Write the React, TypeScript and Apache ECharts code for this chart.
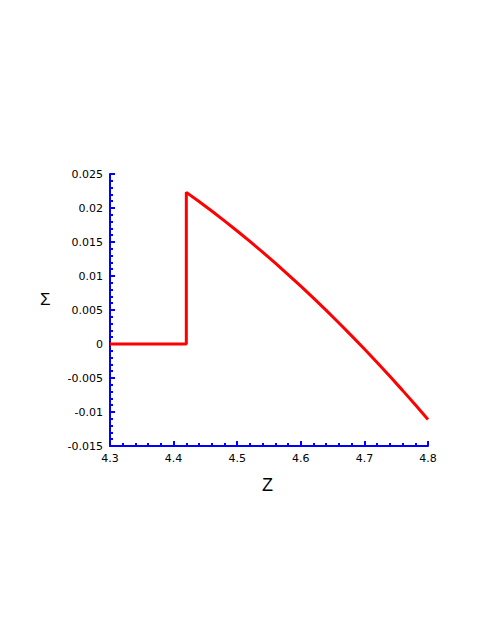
import React, { useEffect, useRef } from "react";
import * as echarts from "echarts";

const zFlat = [4.3, 4.42];
const sigmaFlat = [0, 0];
const zCurve = [4.42, 4.44, 4.46, 4.48, 4.5, 4.52, 4.54, 4.56, 4.58, 4.6, 4.62, 4.64, 4.66, 4.68, 4.7, 4.72, 4.74, 4.76, 4.78, 4.8];
const sigmaCurve = [0.0223, 0.02095, 0.01955, 0.0181, 0.01662, 0.01508, 0.01351, 0.01188, 0.01021, 0.0085, 0.00674, 0.00494, 0.00309, 0.0012, -0.00074, -0.00272, -0.00475, -0.00682, -0.00894, -0.0111];
const xTicks = { min: 4.3, max: 4.8, interval: 0.1 };
const yTicks = { min: -0.015, max: 0.025, interval: 0.005 };
const xName = "Z";
const yName = "Σ";

export default function App() {
  const ref = useRef<HTMLDivElement>(null);
  useEffect(() => {
    if (!ref.current) return;
    const chart = echarts.init(ref.current, null, { renderer: "svg" });
    const data: number[][] = [];
    zFlat.forEach((z, i) => data.push([z, sigmaFlat[i]]));
    zCurve.forEach((z, i) => data.push([z, sigmaCurve[i]]));
    const blue = "#0000ff";
    const font = "DejaVu Sans";
    chart.setOption({
      animation: false,
      backgroundColor: "#ffffff",
      grid: { left: 110, top: 174, width: 318, height: 272, containLabel: false },
      xAxis: {
        type: "value",
        min: xTicks.min,
        max: xTicks.max,
        interval: xTicks.interval,
        axisLine: { show: true, onZero: false, lineStyle: { color: blue, width: 2 } },
        axisTick: { show: true, inside: true, length: 5, lineStyle: { color: blue, width: 2 } },
        minorTick: { show: true, splitNumber: 5, length: 3, lineStyle: { color: blue, width: 2 } },
        splitLine: { show: false },
        axisLabel: {
          color: "#000",
          fontFamily: font,
          fontSize: 11,
          margin: 7,
          formatter: (v: number) => v.toFixed(1),
        },
      },
      yAxis: {
        type: "value",
        min: yTicks.min,
        max: yTicks.max,
        interval: yTicks.interval,
        axisLine: { show: true, onZero: false, lineStyle: { color: blue, width: 2 } },
        axisTick: { show: true, inside: true, length: 5, lineStyle: { color: blue, width: 2 } },
        minorTick: { show: true, splitNumber: 5, length: 3, lineStyle: { color: blue, width: 2 } },
        splitLine: { show: false },
        axisLabel: {
          color: "#000",
          fontFamily: font,
          fontSize: 11,
          margin: 7,
          formatter: (v: number) => {
            const r = Math.round(v * 1000) / 1000;
            return r === 0 ? "0" : String(r);
          },
        },
      },
      graphic: [
        {
          type: "text",
          left: 40,
          top: 291,
          style: { text: yName, fill: "#000", font: "17px Liberation Sans" },
        },
        {
          type: "text",
          left: 262,
          top: 476,
          style: { text: xName, fill: "#000", font: "18px Liberation Sans" },
        },
      ],
      series: [
        {
          type: "line",
          data,
          showSymbol: false,
          smooth: false,
          lineStyle: { color: "#ff0000", width: 3 },
          clip: false,
        },
      ],
    });
    return () => chart.dispose();
  }, []);
  return (
    <div
      ref={ref}
      style={{ position: "fixed", left: 0, top: 0, width: 488, height: 632, background: "#fff" }}
    />
  );
}
